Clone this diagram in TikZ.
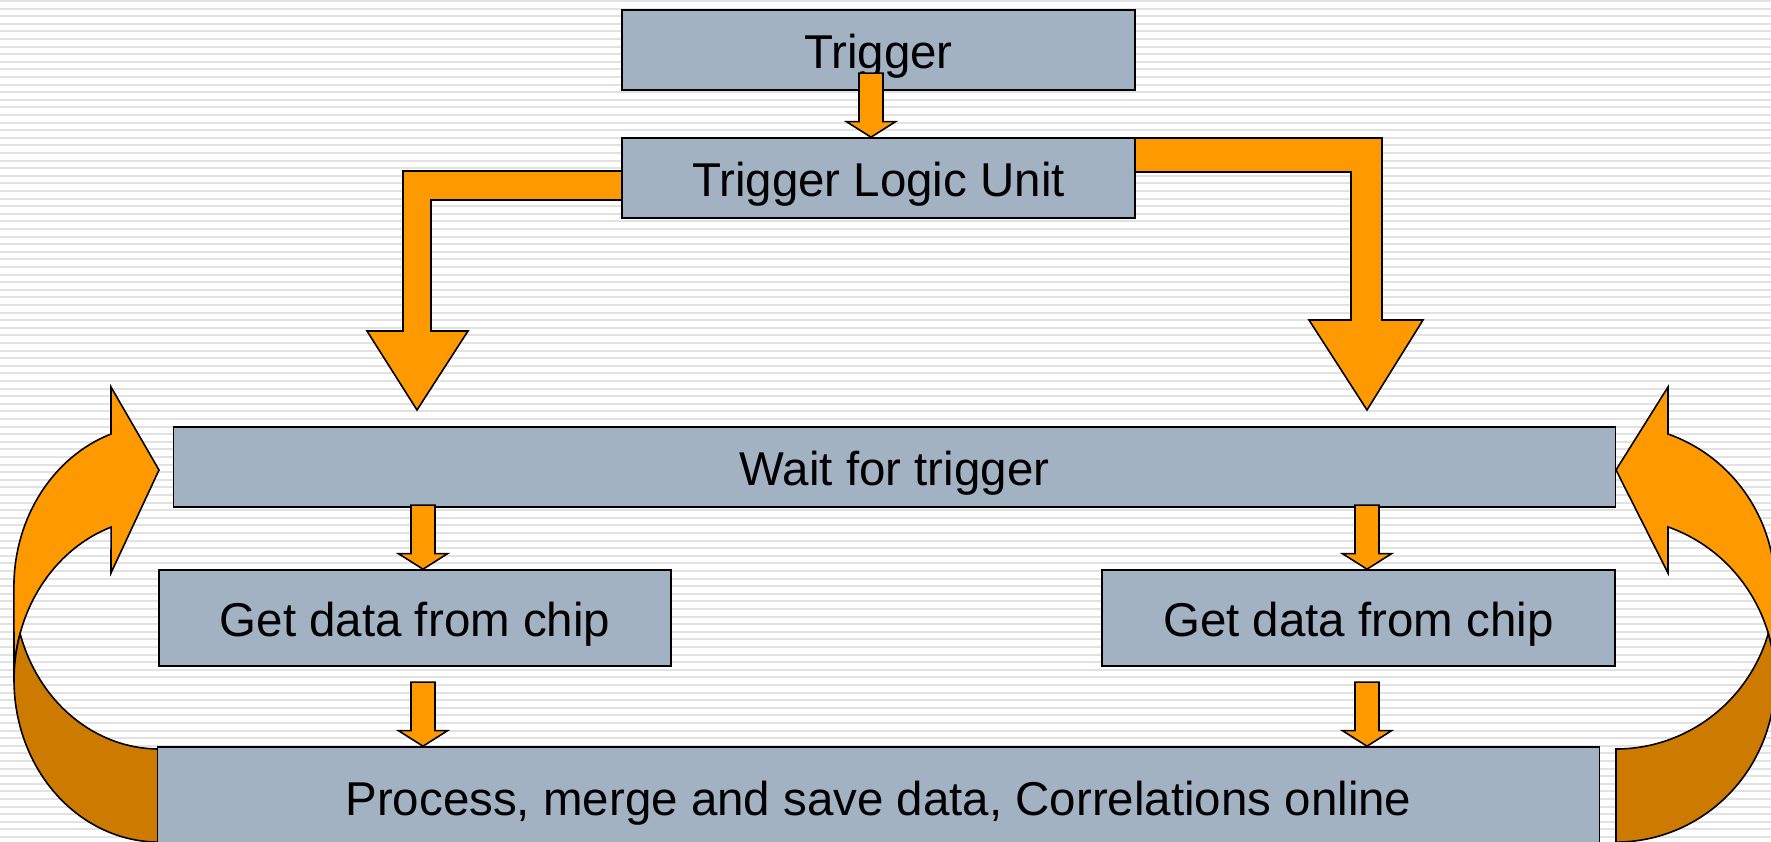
\documentclass[tikz,border=0pt]{standalone}
\usepackage{fontspec}
\setmainfont{Liberation Sans}
\definecolor{boxgrey}{RGB}{162,178,194}
\definecolor{arroworange}{RGB}{255,153,0}
\definecolor{arrowdark}{RGB}{204,122,0}
\definecolor{stripe}{RGB}{226,226,226}

\tikzset{
  box/.style={draw=black, fill=boxgrey, line width=0.45pt, inner sep=0pt,
    minimum width=5.13cm, minimum height=0.8cm, text height=13.2pt, text depth=2.8pt,
    font=\fontsize{13.5}{16}\selectfont},
  blockarrow/.style={draw=black, fill=arroworange, line width=0.45pt, line join=miter},
  loopback/.style={draw=black, fill=arrowdark, line width=0.45pt},
  stripeline/.style={draw=stripe, line width=0.02cm}
}

\newcommand{\smallarrow}[1]{%
  \filldraw[blockarrow] (#1) -- ++(-24.5,15.5) -- ++(12.5,0) -- ++(0,48.5)
    -- ++(24,0) -- ++(0,-48.5) -- ++(12.5,0) -- cycle;}

\begin{document}
\begin{tikzpicture}[x=0.01cm, y=0.01cm]
\useasboundingbox (0,0) rectangle (1771,841);
\clip (0,0) rectangle (1771,841);

\foreach \k in {0,...,110}
  \draw[stripeline] (0,{840-7.6*\k}) -- (1771,{840-7.6*\k});

% loop arrows at the sides
\filldraw[blockarrow] (14,161) arc[start angle=180, end angle=109.3, x radius=145, y radius=162]
  -- (111,268) -- (159,371) -- (111,454) -- (111,407)
  arc[start angle=109.3, end angle=180, x radius=145, y radius=162] -- cycle;
\filldraw[loopback] (159,92) arc[start angle=270, end angle=196.7, x radius=145, y radius=162]
  arc[start angle=163.3, end angle=270, x radius=145, y radius=162] -- cycle;

\filldraw[blockarrow] (1775,161) arc[start angle=0, end angle=70.9, x radius=159, y radius=162]
  -- (1668,268) -- (1616,371) -- (1668,454) -- (1668,407)
  arc[start angle=70.9, end angle=0, x radius=159, y radius=162] -- cycle;
\filldraw[loopback] (1616,92) arc[start angle=-90, end angle=-16.7, x radius=159, y radius=162]
  arc[start angle=16.7, end angle=-90, x radius=159, y radius=162] -- cycle;

\coordinate (tluw) at (622,663);
\coordinate (tlune) at (1135,703);

\filldraw[blockarrow] ([yshift=0.07cm]tluw) -- ++(-219,0) -- ++(0,-160) -- ++(-36,0)
  -- ++(50,-79) -- ++(51,79) -- ++(-37,0) -- ++(0,131) -- ++(191,0) -- cycle;
\filldraw[blockarrow] (tlune) -- ++(247,0) -- ++(0,-182) -- ++(41,0)
  -- ++(-56,-90) -- ++(-58,90) -- ++(42,0) -- ++(0,148) -- ++(-216,0) -- cycle;

\node[box] (trig) at (878.5,791) {Trigger};
\node[box] (tlu) at (878.5,663) {Trigger Logic Unit};
\node[box, minimum width=14.41cm] (wait) at (894.5,374) {Wait for trigger};
\node[box, minimum width=5.12cm, minimum height=0.96cm] (getL) at (415,223) {Get data from chip};
\node[box, minimum height=0.96cm] (getR) at (1358.5,223) {Get data from chip};
\node[box, minimum width=14.41cm, minimum height=1cm] (proc) at (878.5,44)
  {Process, merge and save data, Correlations online};

\coordinate (t0) at ([xshift=-0.075cm]tlu.north);
\coordinate (l1) at ([xshift=0.08cm]getL.north);
\coordinate (l2) at (l1 |- proc.north);
\coordinate (r1) at ([xshift=0.085cm]getR.north);
\coordinate (r2) at (r1 |- proc.north);
\smallarrow{t0}
\smallarrow{l1}
\smallarrow{l2}
\smallarrow{r1}
\smallarrow{r2}

\end{tikzpicture}
\end{document}
